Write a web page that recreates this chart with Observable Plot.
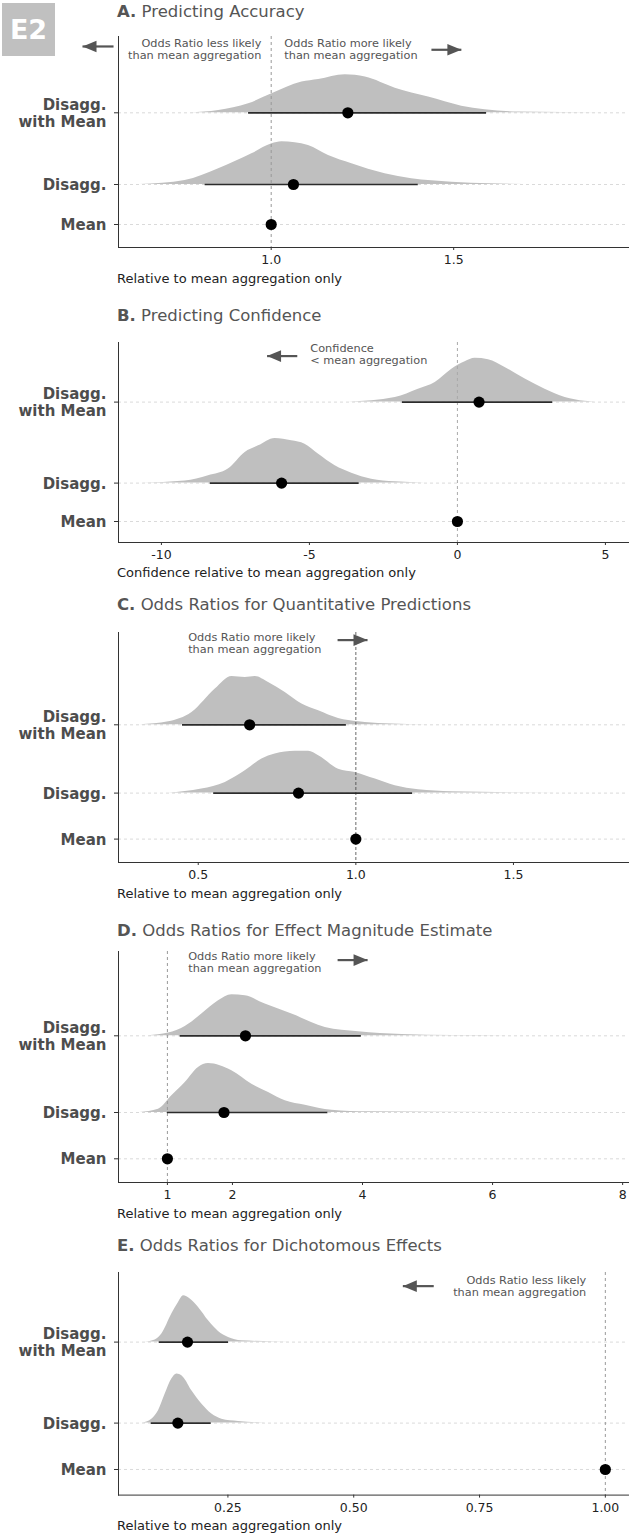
<!DOCTYPE html>
<html><head><meta charset="utf-8">
<script src="https://cdn.jsdelivr.net/npm/d3@7"></script>
<script src="https://cdn.jsdelivr.net/npm/@observablehq/plot@0.6"></script>
<style>
body{margin:0;background:#fff;font-family:"DejaVu Sans",sans-serif;}
#root{position:relative;width:629px;height:1537px;overflow:hidden;}
.panel{position:absolute;left:0;}
.title{position:absolute;left:117px;font-size:16.5px;line-height:20px;color:#555;white-space:nowrap;z-index:2;}
.title b{font-weight:700;}
.axtitle{position:absolute;left:117px;font-size:13px;line-height:18px;color:#222;white-space:nowrap;z-index:2;}
.badge{position:absolute;left:2px;top:3px;width:53px;height:53px;background:#c0c0c0;color:#fff;font-weight:700;font-size:27px;display:flex;align-items:center;justify-content:center;z-index:2;}
</style></head>
<body><div id="root"></div>
<script>
// ---------- DATA ----------
const categories = ["Mean", "Disagg.", "Disagg.\nwith Mean"];
const panelLetters = ["A.", "B.", "C.", "D.", "E."];
const panelTitles = ["Predicting Accuracy", "Predicting Confidence", "Odds Ratios for Quantitative Predictions", "Odds Ratios for Effect Magnitude Estimate", "Odds Ratios for Dichotomous Effects"];
const axisTitles = ["Relative to mean aggregation only", "Confidence relative to mean aggregation only", "Relative to mean aggregation only", "Relative to mean aggregation only", "Relative to mean aggregation only"];

// point estimates: [Mean, Disagg., Disagg. with Mean]
const estA = [1.00, 1.061, 1.210];
const estB = [0, -5.94, 0.73];
const estC = [1.00, 0.818, 0.663];
const estD = [1.00, 1.87, 2.20];
const estE = [1.00, 0.1505, 0.1697];

// interval bounds: [Disagg., Disagg. with Mean]
const loA = [0.819, 0.938], hiA = [1.403, 1.590];
const loB = [-8.35, -1.86], hiB = [-3.32, 3.22];
const loC = [0.549, 0.450], hiC = [1.180, 0.970];
const loD = [1.00, 1.196], hiD = [3.468, 3.982];
const loE = [0.0976, 0.1135], hiE = [0.2168, 0.2512];

// densities [value, thickness (fraction of the Disagg.-to-Disagg. with Mean row gap)]
const densA_dis = [[0.641,0],[0.764,0.056],[0.856,0.219],[0.947,0.428],[1.002,0.568],[1.029,0.596],[1.102,0.544],[1.157,0.404],[1.221,0.289],[1.312,0.149],[1.385,0.079],[1.495,0.032],[1.600,0.010],[1.732,0]];
const densA_dwm = [[0.778,0],[0.856,0.032],[0.938,0.126],[1.002,0.265],[1.084,0.428],[1.130,0.464],[1.203,0.530],[1.258,0.498],[1.340,0.344],[1.431,0.219],[1.522,0.093],[1.586,0.042],[1.678,0.010],[1.915,0]];
const densB_dis = [[-10.66,0],[-9.20,0.025],[-8.41,0.090],[-7.74,0.173],[-7.17,0.379],[-6.72,0.460],[-6.16,0.552],[-5.60,0.522],[-5.15,0.481],[-4.70,0.358],[-4.13,0.214],[-3.57,0.123],[-2.90,0.049],[-2.10,0.016],[-1.09,0]];
const densB_dwm = [[-3.68,0],[-2.10,0.058],[-1.32,0.160],[-0.75,0.243],[-0.19,0.407],[0.26,0.498],[0.60,0.540],[1.05,0.522],[1.61,0.428],[2.29,0.284],[2.96,0.160],[3.64,0.058],[4.31,0.012],[4.99,0]];
const densC_dis = [[0.406,0],[0.511,0.059],[0.586,0.157],[0.649,0.326],[0.702,0.498],[0.744,0.571],[0.808,0.611],[0.850,0.611],[0.882,0.546],[0.945,0.351],[0.998,0.303],[1.062,0.205],[1.125,0.107],[1.199,0.048],[1.305,0.019],[1.50,0.006],[1.791,0]];
const densC_dwm = [[0.316,0],[0.406,0.044],[0.480,0.180],[0.554,0.523],[0.607,0.707],[0.649,0.693],[0.681,0.707],[0.723,0.619],[0.776,0.473],[0.829,0.303],[0.882,0.205],[0.945,0.092],[1.009,0.044],[1.093,0.015],[1.236,0]];
const densD_dis = [[0.581,0],[0.863,0.043],[1.068,0.218],[1.274,0.391],[1.478,0.587],[1.632,0.639],[1.991,0.544],[2.299,0.369],[2.555,0.261],[2.812,0.153],[3.120,0.095],[3.530,0.030],[4.094,0.009],[6.606,0]];
const densD_dwm = [[0.709,0],[1.017,0.035],[1.274,0.121],[1.529,0.283],[1.786,0.456],[1.991,0.535],[2.197,0.522],[2.504,0.413],[2.914,0.283],[3.428,0.108],[3.940,0.052],[4.606,0.017],[5.376,0.004],[7.735,0]];
const densE_dis = [[0.0789,0],[0.0988,0.049],[0.1121,0.152],[0.1254,0.358],[0.1385,0.543],[0.1485,0.605],[0.1618,0.564],[0.1783,0.399],[0.1981,0.235],[0.2180,0.111],[0.2379,0.049],[0.2711,0.021],[0.3241,0]];
const densE_dwm = [[0.0857,0],[0.1055,0.025],[0.1187,0.099],[0.1385,0.346],[0.1518,0.490],[0.1618,0.572],[0.1751,0.531],[0.1916,0.428],[0.2115,0.263],[0.2313,0.132],[0.2512,0.058],[0.2776,0.016],[0.3770,0]];

// x tick values and labels
const ticksA = [1.0, 1.5],               tickLabelsA = ["1.0", "1.5"];
const ticksB = [-10, -5, 0, 5],          tickLabelsB = ["-10", "-5", "0", "5"];
const ticksC = [0.5, 1.0, 1.5],          tickLabelsC = ["0.5", "1.0", "1.5"];
const ticksD = [1, 2, 4, 6, 8],          tickLabelsD = ["1", "2", "4", "6", "8"];
const ticksE = [0.25, 0.50, 0.75, 1.00], tickLabelsE = ["0.25", "0.50", "0.75", "1.00"];

// reference values
const refs = [1, 0, 1, 1, 1];

// annotations (x in data units; y in row units, 2 = "Disagg. with Mean")
const lessText = "Odds Ratio less likely\nthan mean aggregation";
const moreText = "Odds Ratio more likely\nthan mean aggregation";
const notesA = [{x:0.973, y:2.883, anchor:"end", text:lessText}, {x:1.036, y:2.883, anchor:"start", text:moreText}];
const notesB = [{x:-4.97, y:2.590, anchor:"start", text:"Confidence\n< mean aggregation"}];
const notesC = [{x:0.468, y:3.198, anchor:"start", text:moreText}];
const notesD = [{x:1.32, y:2.956, anchor:"start", text:moreText}];
const notesE = [{x:0.962, y:2.693, anchor:"end", text:lessText}];
const arrowsA = [{x1:0.568, x2:0.483, y:2.925}, {x1:1.439, x2:1.521, y:2.879}];
const arrowsB = [{x1:-5.41, x2:-6.43, y:2.568}];
const arrowsC = [{x1:0.942, x2:1.037, y:3.24}];
const arrowsD = [{x1:3.617, x2:4.078, y:2.987}];
const arrowsE = [{x1:0.659, x2:0.5976, y:2.691}];

// ---------- LAYOUT ----------
const layout = [
  {top:16,    frameTop:36,    frameBottom:247,    rows:[224,184,112.3],    xDomain:[0.5816,1.979], refStroke:"#999", refDash:"3,3", refW:1,   titleY:2,    axisY:270.3},
  {top:321.7, frameTop:341.7, frameBottom:541.7,  rows:[520.7,482.3,401.3], xDomain:[-11.45,5.78], refStroke:"#aaa", refDash:"3,3", refW:1,   titleY:306,  axisY:564.3},
  {top:611.7, frameTop:631.7, frameBottom:861.7,  rows:[838.3,792.3,724],   xDomain:[0.247,1.865], refStroke:"#444", refDash:"3,2", refW:0.8, titleY:595,  axisY:885.3},
  {top:930.7, frameTop:950.7, frameBottom:1181.7, rows:[1158,1111.7,1035],  xDomain:[0.248,8.09],  refStroke:"#999", refDash:"3,3", refW:1,   titleY:921,  axisY:1205.3},
  {top:1251.7,frameTop:1271.7,frameBottom:1494.3, rows:[1468.7,1422.3,1341.3], xDomain:[0.0326,1.046], refStroke:"#999", refDash:"3,3", refW:1, titleY:1236, axisY:1517}
];

const panelsData = [
  {est:estA, lo:loA, hi:hiA, dens:[densA_dis, densA_dwm], ticks:ticksA, labels:tickLabelsA, notes:notesA, arrows:arrowsA},
  {est:estB, lo:loB, hi:hiB, dens:[densB_dis, densB_dwm], ticks:ticksB, labels:tickLabelsB, notes:notesB, arrows:arrowsB},
  {est:estC, lo:loC, hi:hiC, dens:[densC_dis, densC_dwm], ticks:ticksC, labels:tickLabelsC, notes:notesC, arrows:arrowsC},
  {est:estD, lo:loD, hi:hiD, dens:[densD_dis, densD_dwm], ticks:ticksD, labels:tickLabelsD, notes:notesD, arrows:arrowsD},
  {est:estE, lo:loE, hi:hiE, dens:[densE_dis, densE_dwm], ticks:ticksE, labels:tickLabelsE, notes:notesE, arrows:arrowsE}
];

// filled arrow head, apex at origin pointing right
const arrowHead = {draw(ctx) { ctx.moveTo(0,0); ctx.lineTo(-14,-5.8); ctx.lineTo(-14,5.8); ctx.closePath(); }};
const FONT = "'DejaVu Sans', sans-serif";

const root = document.getElementById("root");
const badge = document.createElement("div");
badge.className = "badge"; badge.textContent = "E2";
root.appendChild(badge);

panelsData.forEach((p, k) => {
  const L = layout[k];
  // row index -> row coordinate (uneven row spacing, as in the original)
  const g = (L.rows[0] - L.rows[1]) / (L.rows[1] - L.rows[2]);
  const rc = d3.scaleLinear([0, 1, 2], [0, g, g + 1]);
  const tickVals = [0, 1, 2].map(rc);
  const dens = [];
  p.dens.forEach((arr, i) => arr.forEach(([x, t]) => dens.push({x, t, row: i + 1})));
  const intervals = p.lo.map((lo, i) => ({lo, hi: p.hi[i], row: i + 1}));
  const points = p.est.map((est, i) => ({est, row: i}));
  const height = L.frameBottom - L.top + 24;
  const chart = Plot.plot({
    width: 629, height,
    marginLeft: 118, marginRight: 1, marginTop: L.frameTop - L.top, marginBottom: 24,
    style: {fontFamily: FONT, background: "transparent", overflow: "visible"},
    x: {domain: L.xDomain, label: null},
    y: {domain: [0, g + 1], range: [L.rows[0] - L.top, L.rows[2] - L.top], label: null},
    marks: [
      Plot.ruleY(tickVals, {stroke: "#d0d0d0", strokeDasharray: "3,3", strokeWidth: 0.8}),
      Plot.areaY(dens, {x: "x", y1: d => rc(d.row), y2: d => rc(d.row) + d.t, z: "row", fill: "#bfbfbf", curve: "monotone-x"}),
      Plot.ruleX([refs[k]], {stroke: L.refStroke, strokeDasharray: L.refDash, strokeWidth: L.refW}),
      Plot.ruleY(intervals, {x1: "lo", x2: "hi", y: d => rc(d.row), stroke: "#2b2b2b", strokeWidth: 1.7}),
      Plot.dot(points, {x: "est", y: d => rc(d.row), r: 5.6, fill: "#000", stroke: null}),
      Plot.text(p.notes.filter(d => d.anchor === "start"), {x: "x", y: d => rc(d.y), text: "text", textAnchor: "start", lineAnchor: "middle", fontSize: 11.3, fill: "#555", lineHeight: 1.08}),
      Plot.text(p.notes.filter(d => d.anchor === "end"), {x: "x", y: d => rc(d.y), text: "text", textAnchor: "end", lineAnchor: "middle", fontSize: 11.3, fill: "#555", lineHeight: 1.08}),
      Plot.link(p.arrows, {x1: "x1", y1: d => rc(d.y), x2: "x2", y2: d => rc(d.y), stroke: "#555", strokeWidth: 2.2}),
      Plot.dot(p.arrows, {x: "x2", y: d => rc(d.y), symbol: arrowHead, r: 5, fill: "#555", stroke: null, rotate: d => d.x2 < d.x1 ? 180 : 0}),
      Plot.axisX({ticks: p.ticks, tickFormat: v => p.labels[p.ticks.indexOf(v)], tickSize: 3, tickPadding: 5, fontSize: 12.5, fill: "#222", stroke: "#333", label: null}),
      Plot.axisY({ticks: tickVals, tickFormat: v => categories[tickVals.indexOf(v)], tickSize: 4, tickPadding: 8, fontSize: 15, fontWeight: "bold", fill: "#4d4d4d", stroke: "#333", lineHeight: 1.15, label: null}),
      Plot.frame({anchor: "left", stroke: "#333"}),
      Plot.frame({anchor: "bottom", stroke: "#333"})
    ]
  });
  const wrap = document.createElement("div");
  wrap.className = "panel";
  wrap.style.top = L.top + "px";
  wrap.appendChild(chart);
  root.appendChild(wrap);

  const t = document.createElement("div");
  t.className = "title"; t.style.top = L.titleY + "px";
  const b = document.createElement("b"); b.textContent = panelLetters[k];
  t.appendChild(b); t.appendChild(document.createTextNode(" " + panelTitles[k]));
  root.appendChild(t);

  const a = document.createElement("div");
  a.className = "axtitle"; a.style.top = L.axisY + "px";
  a.textContent = axisTitles[k];
  root.appendChild(a);
});
</script></body></html>
